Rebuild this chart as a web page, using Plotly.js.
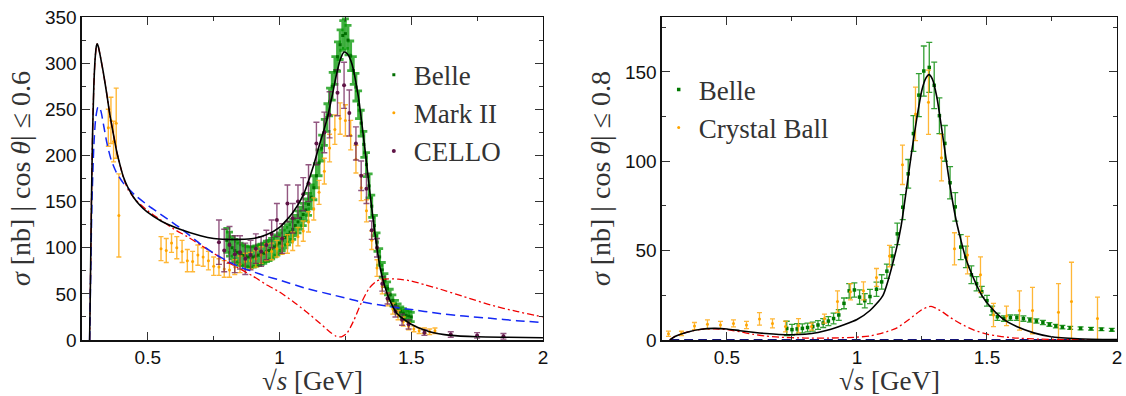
<!DOCTYPE html>
<html>
<head>
<meta charset="utf-8">
<script src="https://cdn.plot.ly/plotly-3.0.1.min.js"></script>
<style>html,body{margin:0;padding:0;background:#fff;}#chart{width:1126px;height:396px;}</style>
</head>
<body>
<div id="chart"></div>
<script>
// ---------- LEFT PANEL (|cos θ| ≤ 0.6) ----------
const leftBelleX = [0.80,0.81,0.82,0.83,0.84,0.85,0.86,0.87,0.88,0.89,0.90,0.91,0.92,0.93,0.94,0.95,0.96,0.97,0.98,0.99,1.00,1.01,1.02,1.03,1.04,1.05,1.06,1.07,1.08,1.09,1.10,1.11,1.12,1.13,1.14,1.15,1.16,1.17,1.18,1.19,1.20,1.21,1.22,1.23,1.24,1.25,1.26,1.27,1.28,1.29,1.30,1.31,1.32,1.33,1.34,1.35,1.36,1.37,1.38,1.39,1.40,1.41,1.42,1.43,1.44,1.45,1.46,1.47,1.48,1.49,1.50];
const leftBelleY = [108,104,100,97,95,93,92,91,90,90,90,91,92,93,94,96,97,99,101,103,105,108,111,114,117,120,124,128,132,136,141,147,155,165,178,192,208,225,241,258,275,292,307,320,330,332,325,308,292,274,255,235,212,190,167,145,124,106,90,76,65,56,49,43,38,34,31,29,27,26,25];
const leftBelleErr = [13,13,12,12,12,12,11,11,11,11,11,11,11,11,11,11,11,11,11,11,11,11,11,11,11,11,11,12,12,12,12,12,13,13,13,14,14,14,15,15,15,15,16,16,16,16,16,16,15,15,15,14,14,13,13,12,11,10,9,8,7,7,6,6,5,5,5,5,5,5,5];

const markIIX = [0.35,0.36,0.37,0.38,0.39,0.55,0.57,0.59,0.61,0.63,0.65,0.67,0.69,0.71,0.73,0.75,0.77,0.79,0.81,0.83,0.85,0.87,0.89,0.91,0.93,0.95,0.97,0.99,1.01,1.03,1.05,1.07,1.09,1.11,1.13,1.15,1.17,1.19,1.21,1.23,1.25,1.27,1.29,1.31,1.33,1.35,1.37,1.39,1.41,1.43,1.45,1.47,1.49,1.51,1.53,1.55,1.57,1.59];
const markIIY = [230,238,215,235,135,99,97,105,100,96,86,85,92,90,86,80,79,77,76,79,82,85,86,88,92,95,96,99,102,104,107,112,118,128,142,160,183,208,228,240,238,222,196,165,140,108,78,58,44,34,27,20,15,12,10,10,9,10];
const markIIErr = [20,25,22,38,45,13,13,10,12,12,12,11,11,10,10,10,9,9,8,8,9,9,9,9,9,9,9,9,9,10,10,10,11,11,12,13,14,15,16,17,17,16,15,14,12,10,9,8,7,6,5,5,4,3,3,3,3,3];

const celloX = [0.77,0.79,0.81,0.83,0.85,0.87,0.89,0.91,0.93,0.95,0.97,0.99,1.01,1.03,1.05,1.07,1.09,1.11,1.14,1.17,1.19,1.22,1.245,1.265,1.29,1.31,1.33,1.35,1.37,1.39,1.41,1.44,1.465,1.49,1.55,1.65,1.75,1.85];
const celloY = [106,97,103,93,95,88,92,99,96,103,115,130,110,148,132,150,158,170,213,225,244,268,276,246,213,178,164,119,100,61,45,31,22,17,8,6,5,4];
const celloErr = [24,23,20,20,18,17,16,16,16,16,15,18,16,20,16,18,18,20,23,22,25,25,25,25,18,16,16,10,10,8,6,6,6,5,3,3,3,3];

const leftFullX = [0.279,0.282,0.286,0.29,0.295,0.30,0.305,0.308,0.312,0.32,0.331,0.345,0.356,0.37,0.382,0.395,0.407,0.425,0.445,0.47,0.496,0.55,0.622,0.70,0.75,0.80,0.85,0.90,0.95,1.00,1.05,1.09,1.128,1.15,1.179,1.20,1.217,1.232,1.245,1.258,1.274,1.299,1.325,1.345,1.36,1.382,1.40,1.413,1.445,1.50,1.57,1.65,1.75,1.85,2.0];
const leftFullY = [0,60,150,220,275,305,319,321,318,307,290,265,244,222,204,189,177,165,155,146,139,129,120,113,110,109,109,110,114,122,138,157,188,210,238,265,289,305,312,310,300,264,205,155,120,78,58,47,29,17,9,5,3.5,3,2.5];

const leftBlueX = [0.279,0.283,0.288,0.295,0.302,0.31,0.315,0.322,0.332,0.345,0.36,0.38,0.407,0.43,0.451,0.50,0.56,0.62,0.70,0.75,0.80,0.85,0.90,0.95,1.0,1.1,1.2,1.3,1.4,1.5,1.6,1.7,1.8,1.9,2.0];
const leftBlueY = [0,70,150,210,240,252,253,248,233,213,196,182,170,163,157,146,134,122,104,94,86,79,74,69,65,56,49,42,37,33,29,26,23.5,21,19];

const leftRedX = [0.279,0.282,0.286,0.29,0.295,0.30,0.305,0.308,0.312,0.32,0.331,0.345,0.356,0.37,0.382,0.395,0.407,0.425,0.45,0.50,0.55,0.60,0.65,0.70,0.75,0.80,0.85,0.90,0.95,1.0,1.05,1.1,1.15,1.19,1.215,1.235,1.255,1.28,1.31,1.34,1.37,1.40,1.45,1.50,1.55,1.60,1.70,1.80,1.90,2.0];
const leftRedY = [0,60,150,220,275,305,319,321,318,307,290,265,244,222,204,189,176,163,153,140,130,120,112,103,94,85,77,69,60,52,42,31,19,9,4,3.5,7,20,40,56,64,66,66,64,60,56,47,38,31,25];

// ---------- RIGHT PANEL (|cos θ| ≤ 0.8) ----------
const rightBelleX = [0.73,0.75,0.77,0.79,0.81,0.83,0.85,0.87,0.89,0.91,0.93,0.95,0.97,0.99,1.01,1.03,1.05,1.075,1.095,1.115,1.135,1.155,1.176,1.197,1.217,1.238,1.257,1.278,1.297,1.317,1.338,1.358,1.378,1.399,1.419,1.44,1.46,1.48,1.50,1.52,1.54,1.565,1.59,1.615,1.64,1.665,1.69,1.715,1.74,1.765,1.79,1.82,1.86,1.90,1.94,1.98];
const rightBelleY = [6.5,5.8,6.2,6.5,7,7.5,8.4,9.5,10.6,12,14,20.5,27.5,28,24,22,24.3,28.4,32.5,38.5,47,59.4,74.3,93,115.5,137,150.5,152.5,142.5,125.5,110,88,74.5,52,46.5,36.5,31.5,27,22,16.5,13,12,12.5,12.5,12,11.2,10.6,9.8,8.7,7.8,7.2,6.8,6.5,6.3,6,5.7];
const rightBelleErr = [4,3,3,2.5,2.5,2.5,2.5,2.5,2.5,3,3,3,4,4,4,4,4,4,4,4,5,6,7,8,10,12,14,14,13,10,10,9,8,7,6,5,4,3,3,2.5,2,1.5,1.5,1.5,1.5,1.2,1.2,1.2,1,1,1,0.8,0.8,0.8,0.8,0.8];

const crystalX = [0.275,0.325,0.375,0.425,0.475,0.525,0.575,0.625,0.675,0.725,0.775,0.825,0.875,0.925,0.975,1.025,1.075,1.125,1.175,1.225,1.275,1.325,1.375,1.425,1.475,1.525,1.575,1.625,1.675,1.775,1.825,1.925];
const crystalY = [3.5,3.7,7.8,8.8,8.4,9.3,8.4,11.8,9.3,7.5,8,7.5,12,21.5,27,27.5,35,47,98,126.5,133,102,51,47.5,36.5,14,13.5,16.5,16.5,15.5,21.5,12];
const crystalErr = [1.5,1.2,2,2.5,2,2,2,3.5,2.5,3,4,2,2.5,6,4.5,5,5,6,11,15,18,13,9,10.5,10,6.5,5.5,11,13,16,22,12];

const rightFullX = [0.28,0.30,0.35,0.40,0.45,0.50,0.55,0.60,0.65,0.70,0.75,0.80,0.85,0.90,0.95,1.0,1.05,1.10,1.15,1.17,1.19,1.21,1.23,1.25,1.265,1.277,1.29,1.307,1.332,1.358,1.38,1.396,1.42,1.447,1.48,1.512,1.56,1.614,1.68,1.742,1.85,2.0];
const rightFullY = [0,2,4.5,6,6.5,6.2,5.2,4.3,3.6,3.1,2.9,3.2,4.2,6,8.5,11.5,16.5,25,50,64,84,105,124,140,146.5,148.5,146,136,112,86,68,58,45,35,25,18.7,12,7.5,4,2,0.7,0.2];

const rightRedX = [0.28,0.30,0.35,0.40,0.45,0.50,0.55,0.60,0.65,0.70,0.80,0.90,1.0,1.05,1.10,1.15,1.20,1.25,1.285,1.32,1.36,1.40,1.45,1.50,1.55,1.60,1.70,1.80,2.0];
const rightRedY = [0,2,4.5,6,6.3,5.8,4.6,3.2,2.2,1.6,1.1,1.1,1.6,2.3,4,6.5,11.5,17,18.8,16.5,12.5,9,5.5,3.3,2,1.2,0.5,0.2,0.1];

const rightBlueX = [0.28,0.5,1.0,1.5,2.0];
const rightBlueY = [0.2,0.2,0.2,0.2,0.2];

// ---------- styles ----------
const ORANGE = 'rgb(255,165,0)';
const PURPLE = 'rgb(95,20,70)';

function dataTrace(x, y, err, name, color, barColor, size, thick, capw, xa, ya, legend, symbol) {
  return {
    type: 'scatter', mode: 'markers', x: x, y: y, name: name,
    xaxis: xa, yaxis: ya, legend: legend,
    marker: {color: color, size: size, symbol: symbol || 'square'},
    error_y: {type: 'data', array: err, visible: true, color: barColor, thickness: thick, width: capw}
  };
}
function curve(x, y, color, dash, width, xa, ya) {
  return {
    type: 'scatter', mode: 'lines', x: x, y: y, xaxis: xa, yaxis: ya,
    showlegend: false, hoverinfo: 'skip',
    line: {color: color, dash: dash, width: width, shape: 'spline', smoothing: 0.6}
  };
}

const traces = [
  dataTrace(leftBelleX, leftBelleY, leftBelleErr, 'Belle', 'rgb(0,110,0)', 'rgba(0,150,0,0.75)', 3, 2.8, 3.5, 'x', 'y', 'legend', 'square'),
  dataTrace(markIIX, markIIY, markIIErr, 'Mark II', ORANGE, 'rgba(255,170,20,0.85)', 3, 1.4, 2.5, 'x', 'y', 'legend', 'circle'),
  dataTrace(celloX, celloY, celloErr, 'CELLO', PURPLE, 'rgba(110,30,85,0.75)', 4, 1.4, 3, 'x', 'y', 'legend', 'circle'),
  curve(leftRedX, leftRedY, 'rgb(240,0,0)', '7px,3px,2px,3px', 1.3, 'x', 'y'),
  curve(leftBlueX, leftBlueY, 'rgb(20,40,245)', '9px,5px', 1.5, 'x', 'y'),
  curve(leftFullX, leftFullY, 'black', 'solid', 1.6, 'x', 'y'),

  dataTrace(rightBelleX, rightBelleY, rightBelleErr, 'Belle', 'rgb(0,120,0)', 'rgba(0,135,0,0.8)', 3.5, 1.3, 3, 'x2', 'y2', 'legend2', 'square'),
  dataTrace(crystalX, crystalY, crystalErr, 'Crystal Ball', ORANGE, 'rgba(255,170,20,0.85)', 3, 1.3, 2.5, 'x2', 'y2', 'legend2', 'circle'),
  curve(rightBlueX, rightBlueY, 'rgb(20,20,120)', '9px,5px', 1.5, 'x2', 'y2'),
  curve(rightRedX, rightRedY, 'rgb(240,0,0)', '7px,3px,2px,3px', 1.3, 'x2', 'y2'),
  curve(rightFullX, rightFullY, 'black', 'solid', 1.6, 'x2', 'y2')
];

const tickFont = {family: 'Liberation Sans', size: 19, color: '#111'};
const titleFont = {family: 'Liberation Serif', size: 27, color: '#333'};

function xAxis(domain, anchor) {
  return {
    domain: domain, anchor: anchor, range: [0.25, 2], tick0: 0, dtick: 0.5,
    ticks: 'inside', ticklen: 8, tickwidth: 1, tickcolor: '#333', mirror: 'allticks',
    showline: true, linecolor: '#111', linewidth: 1.5, showgrid: false, zeroline: false,
    minor: {tick0: 0, dtick: 0.25, ticks: 'inside', ticklen: 4, tickcolor: '#333', tickwidth: 1, showgrid: false},
    tickfont: tickFont,
    title: {text: '√<i>s</i> [GeV]', font: titleFont, standoff: 9}
  };
}
function yAxis(domain, anchor, range, label) {
  return {
    domain: domain, anchor: anchor, range: range, tick0: 0, dtick: 50,
    ticks: 'inside', ticklen: 8, tickwidth: 1, tickcolor: '#333', mirror: 'allticks',
    showline: true, linecolor: '#111', linewidth: 1.5, showgrid: false, zeroline: false,
    minor: {tick0: 0, dtick: 25, ticks: 'inside', ticklen: 4, tickcolor: '#333', tickwidth: 1, showgrid: false},
    tickfont: tickFont,
    title: {text: label, font: {family: 'Liberation Serif', size: 28, color: '#333'}, standoff: 6}
  };
}

const legendFont = {family: 'Liberation Serif', size: 27, color: '#333'};

const layout = {
  width: 1126, height: 396,
  margin: {l: 0, r: 0, t: 0, b: 0},
  paper_bgcolor: 'white', plot_bgcolor: 'white',
  showlegend: true,
  xaxis: xAxis([0.0728, 0.4822], 'y'),
  yaxis: yAxis([0.1414, 0.957], 'x', [0, 350], '<i>σ</i> [nb] | cos <i>θ</i>| ≤ 0.6'),
  xaxis2: xAxis([0.5879, 0.992], 'y2'),
  yaxis2: yAxis([0.1414, 0.957], 'x2', [0, 180.7], '<i>σ</i> [nb] | cos <i>θ</i>| ≤ 0.8'),
  legend: {x: 0.332, y: 0.872, xanchor: 'left', yanchor: 'top', bgcolor: 'rgba(0,0,0,0)', borderwidth: 0, font: legendFont},
  legend2: {x: 0.585, y: 0.835, xanchor: 'left', yanchor: 'top', bgcolor: 'rgba(0,0,0,0)', borderwidth: 0, font: legendFont}
};

Plotly.newPlot('chart', traces, layout, {displayModeBar: false, staticPlot: true});
</script>
</body>
</html>
